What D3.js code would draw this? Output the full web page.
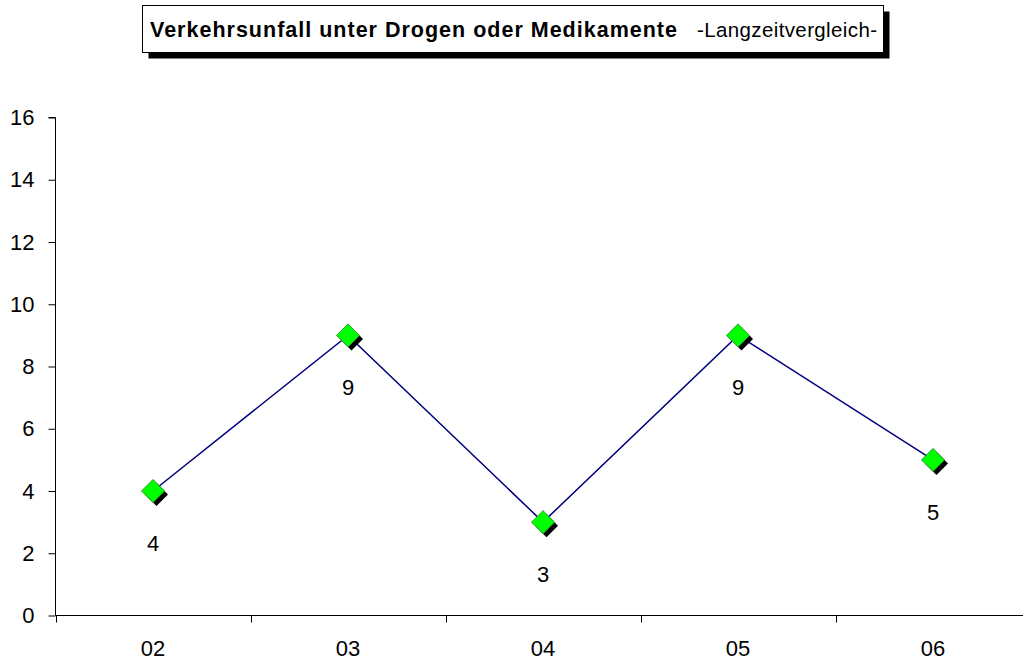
<!DOCTYPE html>
<html>
<head>
<meta charset="utf-8">
<script src="https://cdn.jsdelivr.net/npm/d3@7"></script>
<style>
  body { margin: 0; background: #fff; }
  svg { display: block; font-family: "Liberation Sans", Arial, sans-serif; }
</style>
</head>
<body>
<div id="chart"></div>
<script>
var years = ["02", "03", "04", "05", "06"];
var unfaelle = [4, 9, 3, 9, 5];
var yTicks = [0, 2, 4, 6, 8, 10, 12, 14, 16];
var titleMain = "Verkehrsunfall unter Drogen oder Medikamente";
var titleSub = "-Langzeitvergleich-";

var width = 1023;
var height = 660;

var svg = d3.select("#chart")
    .append("svg")
    .attr("width", width)
    .attr("height", height);

// title box with shadow
var box = { x: 142.5, y: 5.5, w: 741, h: 47 };
svg.append("rect")
    .attr("x", box.x + 6).attr("y", box.y + 6)
    .attr("width", box.w).attr("height", box.h)
    .attr("fill", "#000");
svg.append("rect")
    .attr("x", box.x).attr("y", box.y)
    .attr("width", box.w).attr("height", box.h)
    .attr("fill", "#fff").attr("stroke", "#000").attr("stroke-width", 1);

svg.append("text")
    .attr("x", 150).attr("y", 37)
    .attr("font-size", 21.5).attr("font-weight", "bold")
    .attr("textLength", 527).attr("lengthAdjust", "spacing")
    .text(titleMain);
svg.append("text")
    .attr("x", 697).attr("y", 37)
    .attr("font-size", 20.5)
    .attr("textLength", 180).attr("lengthAdjust", "spacing")
    .text(titleSub);

var x = d3.scaleBand()
    .domain(years)
    .range([55.5, 1030.5]);

var y = d3.scaleLinear()
    .domain([0, 16])
    .range([615.5, 117.5]);

// y axis
var yAxis = svg.append("g")
    .attr("transform", "translate(55.5,0)")
    .call(d3.axisLeft(y).tickValues(yTicks).tickSize(7).tickPadding(14));
yAxis.select(".domain").attr("d", "M-7," + y(16) + "H0V" + y(0));
yAxis.selectAll("text").attr("font-size", 22).attr("fill", "#000").attr("font-family", "Liberation Sans, Arial, sans-serif");

// x axis: ticks at band edges
var xAxis = svg.append("g")
    .attr("transform", "translate(0," + y(0) + ")");
xAxis.append("line")
    .attr("x1", 55.5).attr("x2", width)
    .attr("stroke", "#000");
xAxis.selectAll(".tk")
    .data(years)
    .enter().append("line")
    .attr("x1", d => Math.round(x(d)) + 0.5)
    .attr("x2", d => Math.round(x(d)) + 0.5)
    .attr("y1", 0).attr("y2", 7)
    .attr("stroke", "#000");
xAxis.selectAll(".lbl")
    .data(years)
    .enter().append("text")
    .attr("x", d => x(d) + x.bandwidth() / 2)
    .attr("y", 40)
    .attr("text-anchor", "middle")
    .attr("font-size", 22)
    .text(d => d);

var pts = years.map((d, i) => ({ year: d, value: unfaelle[i] }));

var line = d3.line()
    .x(d => x(d.year) + x.bandwidth() / 2)
    .y(d => y(d.value));

svg.append("path")
    .datum(pts)
    .attr("d", line)
    .attr("fill", "none")
    .attr("stroke", "#000080")
    .attr("stroke-width", 1.5);

var diamond = "M0,-11.5L11.5,0L0,11.5L-11.5,0Z";

var marks = svg.append("g")
    .selectAll("g")
    .data(pts)
    .enter().append("g")
    .attr("transform", d => "translate(" + (x(d.year) + x.bandwidth() / 2) + "," + y(d.value) + ")");

marks.append("path")
    .attr("d", diamond)
    .attr("transform", "translate(3.5,3.5)")
    .attr("fill", "#000");
marks.append("path")
    .attr("d", diamond)
    .attr("fill", "#00ff00")
    .attr("stroke", "#339933")
    .attr("stroke-width", 1);

marks.append("text")
    .attr("y", 60)
    .attr("text-anchor", "middle")
    .attr("font-size", 22)
    .text(d => d.value);
</script>
</body>
</html>
